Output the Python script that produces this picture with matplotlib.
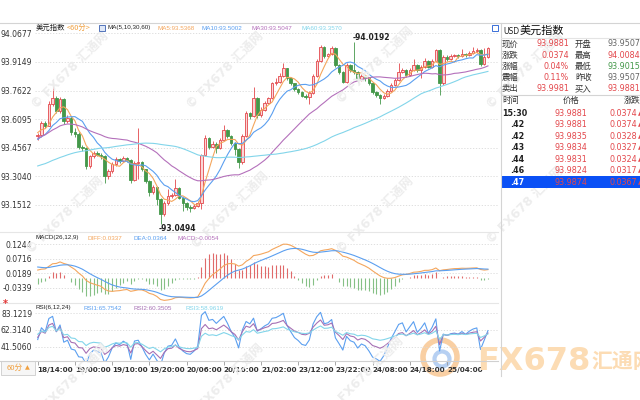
import numpy as np
import pandas as pd
import matplotlib
matplotlib.use("Agg")
import matplotlib.pyplot as plt
from matplotlib.patches import Rectangle, Ellipse
from matplotlib.lines import Line2D

plt.rcParams['font.family'] = ['DejaVu Sans', 'Noto Sans CJK SC']

#=========================== data ===========================
# hourly closes before the first visible bar (only feed MA / MACD / RSI)
prior_closes = [93.18, 93.20, 93.22, 93.19, 93.17, 93.21, 93.23, 93.20, 93.18, 93.16,
                93.19, 93.21, 93.24, 93.22, 93.20, 93.18, 93.21, 93.23, 93.25, 93.22,
                93.20, 93.19, 93.22, 93.24, 93.21, 93.19, 93.22, 93.25, 93.23, 93.21,
                93.26, 93.29, 93.31, 93.30, 93.33, 93.35, 93.36,
                93.42, 93.50, 93.56, 93.60, 93.63, 93.66, 93.68, 93.70, 93.67, 93.64, 93.62,
                93.58, 93.52, 93.47,
                93.44, 93.46, 93.48, 93.45, 93.49,
                93.51, 93.55, 93.58, 93.52]

closes = [93.525, 93.590, 93.575, 93.690, 93.720, 93.650, 93.715, 93.600, 93.615, 93.540,
          93.530, 93.460, 93.455, 93.360, 93.410, 93.430, 93.420, 93.410, 93.305, 93.330,
          93.370, 93.395, 93.385, 93.400, 93.390, 93.285, 93.375, 93.380, 93.340, 93.280,
          93.220, 93.245, 93.180, 93.100, 93.160, 93.200, 93.205, 93.240, 93.190, 93.160,
          93.140, 93.135, 93.145, 93.160, 93.415, 93.510, 93.460, 93.475, 93.455, 93.500,
          93.550, 93.520, 93.480, 93.450, 93.380, 93.520, 93.640, 93.625, 93.720, 93.630,
          93.660, 93.695, 93.720, 93.800, 93.810, 93.840, 93.880, 93.830, 93.800, 93.770,
          93.755, 93.735, 93.730, 93.750, 93.840, 93.920, 93.995, 93.945, 93.955, 93.990,
          93.900, 93.860, 93.810, 93.900, 93.870, 93.860, 93.820, 93.840, 93.830, 93.800,
          93.755, 93.740, 93.720, 93.735, 93.760, 93.790, 93.820, 93.860, 93.870, 93.845,
          93.870, 93.900, 93.870, 93.890, 93.920, 93.890, 93.920, 93.980, 93.800, 93.940,
          93.930, 93.945, 93.950, 93.945, 93.960, 93.950, 93.965, 93.975, 93.980, 93.905,
          93.940, 93.9874]

highs = [93.535, 93.600, 93.600, 93.705, 93.800, 93.735, 93.730, 93.720, 93.630, 93.625,
         93.560, 93.540, 93.470, 93.460, 93.420, 93.440, 93.440, 93.430, 93.415, 93.345,
         93.380, 93.405, 93.400, 93.410, 93.405, 93.395, 93.385, 93.560, 93.385, 93.345,
         93.285, 93.255, 93.250, 93.185, 93.170, 93.235, 93.215, 93.290, 93.245, 93.195,
         93.165, 93.150, 93.155, 93.170, 93.425, 93.525, 93.515, 93.490, 93.485, 93.510,
         93.580, 93.555, 93.525, 93.485, 93.455, 93.530, 93.655, 93.645, 93.780, 93.730,
         93.675, 93.705, 93.730, 93.810, 93.830, 93.855, 93.910, 93.885, 93.835, 93.805,
         93.775, 93.760, 93.745, 93.760, 93.850, 93.930, 94.005, 94.000, 93.965, 94.000,
         93.995, 93.905, 93.865, 93.910, 93.905, 94.0192, 93.865, 93.850, 93.845, 93.835,
         93.805, 93.760, 93.745, 93.745, 93.770, 93.800, 93.830, 93.910, 93.880, 93.875,
         93.880, 93.930, 93.905, 93.900, 93.935, 93.925, 93.930, 93.985, 93.985, 93.950,
         93.950, 93.955, 93.960, 93.960, 93.985, 93.965, 93.975, 93.995, 93.990, 93.985,
         93.990, 93.995]

lows = [93.495, 93.515, 93.560, 93.570, 93.680, 93.640, 93.640, 93.585, 93.590, 93.525,
        93.515, 93.450, 93.440, 93.345, 93.350, 93.400, 93.410, 93.395, 93.270, 93.290,
        93.320, 93.360, 93.375, 93.380, 93.380, 93.270, 93.280, 93.290, 93.330, 93.265,
        93.200, 93.210, 93.150, 93.0494, 93.090, 93.150, 93.190, 93.200, 93.180, 93.120,
        93.125, 93.110, 93.130, 93.140, 93.130, 93.410, 93.450, 93.455, 93.430, 93.450,
        93.495, 93.510, 93.470, 93.420, 93.350, 93.370, 93.515, 93.610, 93.620, 93.615,
        93.620, 93.650, 93.690, 93.715, 93.790, 93.800, 93.835, 93.820, 93.790, 93.760,
        93.745, 93.725, 93.715, 93.690, 93.745, 93.835, 93.915, 93.935, 93.940, 93.950,
        93.890, 93.850, 93.800, 93.805, 93.860, 93.850, 93.810, 93.815, 93.815, 93.790,
        93.745, 93.730, 93.690, 93.715, 93.730, 93.755, 93.785, 93.815, 93.855, 93.835,
        93.840, 93.865, 93.860, 93.830, 93.885, 93.880, 93.885, 93.915, 93.740, 93.790,
        93.920, 93.925, 93.940, 93.935, 93.940, 93.940, 93.945, 93.960, 93.965, 93.895,
        93.900, 93.935]

time_labels = ['18/14:00', '19/00:00', '19/10:00', '19/20:00', '20/06:00', '20/16:00',
               '21/02:00', '23/12:00', '23/22:00', '24/08:00', '24/18:00', '25/04:00']

price_ticks = [94.0677, 93.9149, 93.7622, 93.6095, 93.4567, 93.3040, 93.1512]
macd_ticks = [0.1244, 0.0716, 0.0189, -0.0339]
rsi_ticks = [83.1219, 62.3140, 41.5060]

ma_periods = [5, 10, 30, 60]
ma_legend = ['MA5:93.5368', 'MA10:93.5002', 'MA30:93.5047', 'MA60:93.3570']
macd_legend = ['DIFF:0.0337', 'DEA:0.0364', 'MACD:-0.0054']
rsi_periods = [6, 12, 24]
rsi_legend = ['RSI1:65.7542', 'RSI2:60.3505', 'RSI3:58.9619']

quote_names_l = ['现价', '涨跌', '涨幅', '震幅', '卖出']
quote_vals_l = ['93.9881', '0.0374', '0.04%', '0.11%', '93.9981']
quote_names_r = ['开盘', '最高', '最低', '昨收', '买入']
quote_vals_r = ['93.9507', '94.0084', '93.9015', '93.9507', '93.9881']
trade_times = ['15:30', '.42', '.42', '.43', '.44', '.46', '.47']
trade_prices = ['93.9881', '93.9881', '93.9835', '93.9834', '93.9831', '93.9824', '93.9874']
trade_changes = ['0.0374', '0.0374', '0.0328', '0.0327', '0.0324', '0.0317', '0.0367']

#=========================== colours ===========================
RED = '#e3474b'
PINK = '#fbd6d6'
GREEN = '#44984a'
GRAY = '#666666'
MA_COLORS = ['#f4a65d', '#5b9ff0', '#b470bb', '#82d5ea']
GRID = '#d9d9d9'

#=========================== indicators ===========================
all_c = pd.Series(prior_closes + closes)
n0 = len(prior_closes)
c = np.array(closes)
o = all_c.shift(1).values[n0:]
h = np.array(highs)
l = np.array(lows)
x = np.arange(len(c))

ma = [all_c.rolling(p).mean().values[n0:] for p in ma_periods]

ema12 = all_c.ewm(span=12, adjust=False).mean()
ema26 = all_c.ewm(span=26, adjust=False).mean()
dif = ema12 - ema26
dea = dif.ewm(span=9, adjust=False).mean()
hist = 2 * (dif - dea)
dif, dea, hist = dif.values[n0:], dea.values[n0:], hist.values[n0:]

chg = all_c.diff().fillna(0)
rsi = []
for p in rsi_periods:
    up = chg.clip(lower=0).ewm(alpha=1.0 / p, adjust=False).mean()
    tot = chg.abs().ewm(alpha=1.0 / p, adjust=False).mean()
    rsi.append((up / tot * 100).values[n0:])

#=========================== figure ===========================
W, H = 640, 400
fig = plt.figure(figsize=(6.4, 4.0), dpi=100)
fig.patch.set_facecolor('white')


def box(x0, y0, x1, y1):
    return [x0 / W, 1 - y1 / H, (x1 - x0) / W, (y1 - y0) / H]


def ftext(px, py, s, **kw):
    return fig.text(px / W, 1 - py / H, s, **kw)


def hline(py, x0, x1, color='#d4d4d4', lw=0.8):
    fig.add_artist(Line2D([x0 / W, x1 / W], [1 - py / H] * 2, color=color, lw=lw))


# watermarks behind everything
for wx, wy in [(70, 70), (225, 70), (375, 65), (525, 70), (65, 215), (230, 210),
               (375, 215), (525, 205), (70, 382), (225, 382), (365, 375)]:
    ftext(wx, wy, '© FX678 汇通网', rotation=45, fontsize=9, fontweight='bold',
          color='#ededed', ha='center', va='center', zorder=0)

# big logo bottom right
fig.add_artist(Ellipse((440 / W, 1 - 357 / H), 34 / W, 34 / H, fill=False,
                       edgecolor='#f9cfa3', lw=4, zorder=0))
fig.add_artist(Ellipse((442 / W, 1 - 359 / H), 15 / W, 15 / H, fill=False,
                       edgecolor='#b7d0f2', lw=3, zorder=0))
ftext(477, 361, 'FX678', fontsize=23, fontweight='bold', color='#fcdcb4',
      ha='left', va='center', zorder=0)
ftext(591, 362, '汇通网', fontsize=15, fontweight='bold', color='#fcdcb4',
      ha='left', va='center', zorder=0, family=['Noto Sans CJK SC', 'DejaVu Sans'])

ax = fig.add_axes(box(35, 23, 498, 232))
ax_m = fig.add_axes(box(35, 232, 498, 303), sharex=ax)
ax_r = fig.add_axes(box(35, 303, 498, 361), sharex=ax)

for a in (ax, ax_m, ax_r):
    a.set_facecolor('none')
    for s in a.spines.values():
        s.set_visible(False)
    a.grid(axis='y', color=GRID, lw=0.6, ls=(0, (1.5, 2)))
    a.tick_params(axis='y', length=0, pad=2, labelsize=5.5, labelcolor='#333333')
    a.tick_params(axis='x', length=0, labelbottom=False)

# ---- candles ----
up = c >= o
base = np.minimum(o, c)
body = np.maximum(np.abs(c - o), 0.002)
ax.vlines(x[up], l[up], h[up], color=RED, lw=0.6, zorder=2)
ax.vlines(x[~up], l[~up], h[~up], color=GREEN, lw=0.6, zorder=2)
ax.bar(x[up], body[up], bottom=base[up], width=0.68, facecolor=PINK,
       edgecolor=RED, lw=0.6, zorder=3)
ax.bar(x[~up], body[~up], bottom=base[~up], width=0.68, facecolor=GREEN,
       edgecolor=GREEN, lw=0.6, zorder=3)
for m, col in zip(ma, MA_COLORS):
    ax.plot(x, m, color=col, lw=0.8, zorder=4)

imax, imin = int(np.argmax(h)), int(np.argmin(l))
ax.text(imax - 0.4, h[imax], '-%.4f' % h[imax], fontsize=5.5, fontweight='bold',
        ha='left', va='bottom', color='#222222', zorder=5)
ax.text(imin - 0.4, l[imin], '-%.4f' % l[imin], fontsize=5.5, fontweight='bold',
        ha='left', va='top', color='#222222', zorder=5)

ax.set_xlim(-0.73, 123.7)
ax.set_ylim(93.0056, 94.1232)
ax.set_yticks(price_ticks)
ax.set_yticklabels(['%.4f' % v for v in price_ticks])

# ---- MACD ----
ax_m.vlines(x, 0, hist, colors=np.where(hist >= 0, '#e06a6a', '#86c086'), lw=0.8)
ax_m.plot(x, dif, color=MA_COLORS[0], lw=0.8)
ax_m.plot(x, dea, color=MA_COLORS[1], lw=0.8)
ax_m.set_ylim(-0.0902, 0.1681)
ax_m.set_yticks(macd_ticks)
ax_m.set_yticklabels(['%.4f' % v for v in macd_ticks])

# ---- RSI ----
for r, col in zip(rsi, ['#5b9ff0', '#a670b4', '#82d5ea']):
    ax_r.plot(x, r, color=col, lw=0.8)
ax_r.set_ylim(24.17, 95.5)
ax_r.set_yticks(rsi_ticks)
ax_r.set_yticklabels(['%.4f' % v for v in rsi_ticks])
ax_r.set_xticks(x[:len(time_labels) * 10:10])
ax_r.set_xticklabels(time_labels)
ax_r.tick_params(axis='x', length=3, width=0.6, color='#999999', pad=1.5,
                 labelbottom=True, labelsize=5.2, labelcolor='#333333')
for t in ax_r.get_xticklabels():
    t.set_ha('left')
    t.set_fontweight('bold')

# ---- panel separators ----
hline(23, 0, 640)
hline(232, 0, 498, color='#e6e6e6')
hline(303, 0, 498, color='#e6e6e6')
hline(361, 0, 498, color='#d0d0d0')
fig.add_artist(Line2D([501 / W] * 2, [1 - 23 / H, 1 - 376 / H], color='#d4d4d4', lw=0.8))

# ---- legend rows ----
leg = ['Liberation Sans', 'Noto Sans CJK SC']
cjk = ['Noto Sans CJK SC', 'DejaVu Sans']
ftext(36, 28, '美元指数', fontsize=5.3, color='#222222', va='center', family=cjk)
ftext(67, 28, '<60分>', fontsize=5.3, color='#f0a040', va='center', family=cjk)
fig.add_artist(Rectangle((99 / W, 1 - 31 / H), 6 / W, 6 / H, facecolor='#dfe8f8',
                         edgecolor='#3a5fb0', lw=0.6))
ftext(107, 28, 'MA(5,10,30,60)', fontsize=4.5, color='#222222', va='center', family=leg)
for s, px_, col in zip(ma_legend, [157, 202, 252, 302], MA_COLORS):
    ftext(px_, 28, s, fontsize=4.5, color=col, va='center', family=leg)
fig.add_artist(Rectangle((492 / W, 1 - 31 / H), 6 / W, 6 / H, facecolor='white',
                         edgecolor='#3a6fd8', lw=0.7))

ftext(36, 238, 'MACD(26,12,9)', fontsize=4.5, color='#222222', va='center', family=leg)
for s, px_, col in zip(macd_legend, [87, 134, 177], [MA_COLORS[0], MA_COLORS[1], '#b470bb']):
    ftext(px_, 238, s, fontsize=4.5, color=col, va='center', family=leg)

ftext(5, 304, '*', fontsize=7, color='#e03030', va='center', ha='center', fontweight='bold')
ftext(36, 308, 'RSI(6,12,24)', fontsize=4.5, color='#222222', va='center', family=leg)
for s, px_, col in zip(rsi_legend, [84, 134, 185], ['#5b9ff0', '#a670b4', '#82d5ea']):
    ftext(px_, 308, s, fontsize=4.5, color=col, va='center', family=leg)

# ---- period box ----
fig.add_artist(Rectangle((1 / W, 1 - 375 / H), 34 / W, 14 / H, facecolor='#f6f6f6',
                         edgecolor='#cccccc', lw=0.6))
ftext(7, 368, '60分', fontsize=5.5, color='#f0a040', va='center', family=cjk)
ftext(25, 368, '▲', fontsize=4.5, color='#f0a040', va='center')

# ---- quote panel ----
ftext(503, 31, 'USD', fontsize=5.5, color='#222222', va='center')
ftext(520, 31, '美元指数', fontsize=8, color='#111111', va='center', family=cjk)
hline(38, 501, 640, color='#e4e4e4')
right_cols = [GRAY, RED, GREEN, GRAY, RED]
for k in range(len(quote_names_l)):
    py = 44 + k * 11.1
    ftext(502, py, quote_names_l[k], fontsize=6, color='#333333', va='center', family=cjk)
    ftext(569, py, quote_vals_l[k], fontsize=5.8, color=RED, va='center', ha='right')
    ftext(575, py, quote_names_r[k], fontsize=6, color='#333333', va='center', family=cjk)
    ftext(640, py, quote_vals_r[k], fontsize=5.8, color=right_cols[k], va='center', ha='right')
hline(95, 501, 640, color='#d4d4d4')
ftext(502, 100, '时间', fontsize=6, color='#333333', va='center', family=cjk)
ftext(571, 100, '价格', fontsize=6, color='#333333', va='center', ha='center', family=cjk)
ftext(640, 100, '涨跌', fontsize=6, color='#333333', va='center', ha='right', family=cjk)

fig.add_artist(Rectangle((501 / W, 1 - 188 / H), 139 / W, 12 / H, facecolor='#0a50f5',
                         edgecolor='none'))
for k in range(len(trade_times)):
    py = 113.3 + k * 11.5
    last = k == len(trade_times) - 1
    tx = 502 if k == 0 else 510
    ftext(tx, py, trade_times[k], fontsize=5.8, fontweight='bold',
          color='white' if last else '#222222', va='center')
    ftext(571, py, trade_prices[k], fontsize=5.8, color=RED, va='center', ha='center')
    ftext(637, py, trade_changes[k], fontsize=5.8, color=RED, va='center', ha='right')
    ftext(637.5, py, '▲', fontsize=4, color=RED, va='center', ha='left')

fig.savefig('out.png', dpi=100)
